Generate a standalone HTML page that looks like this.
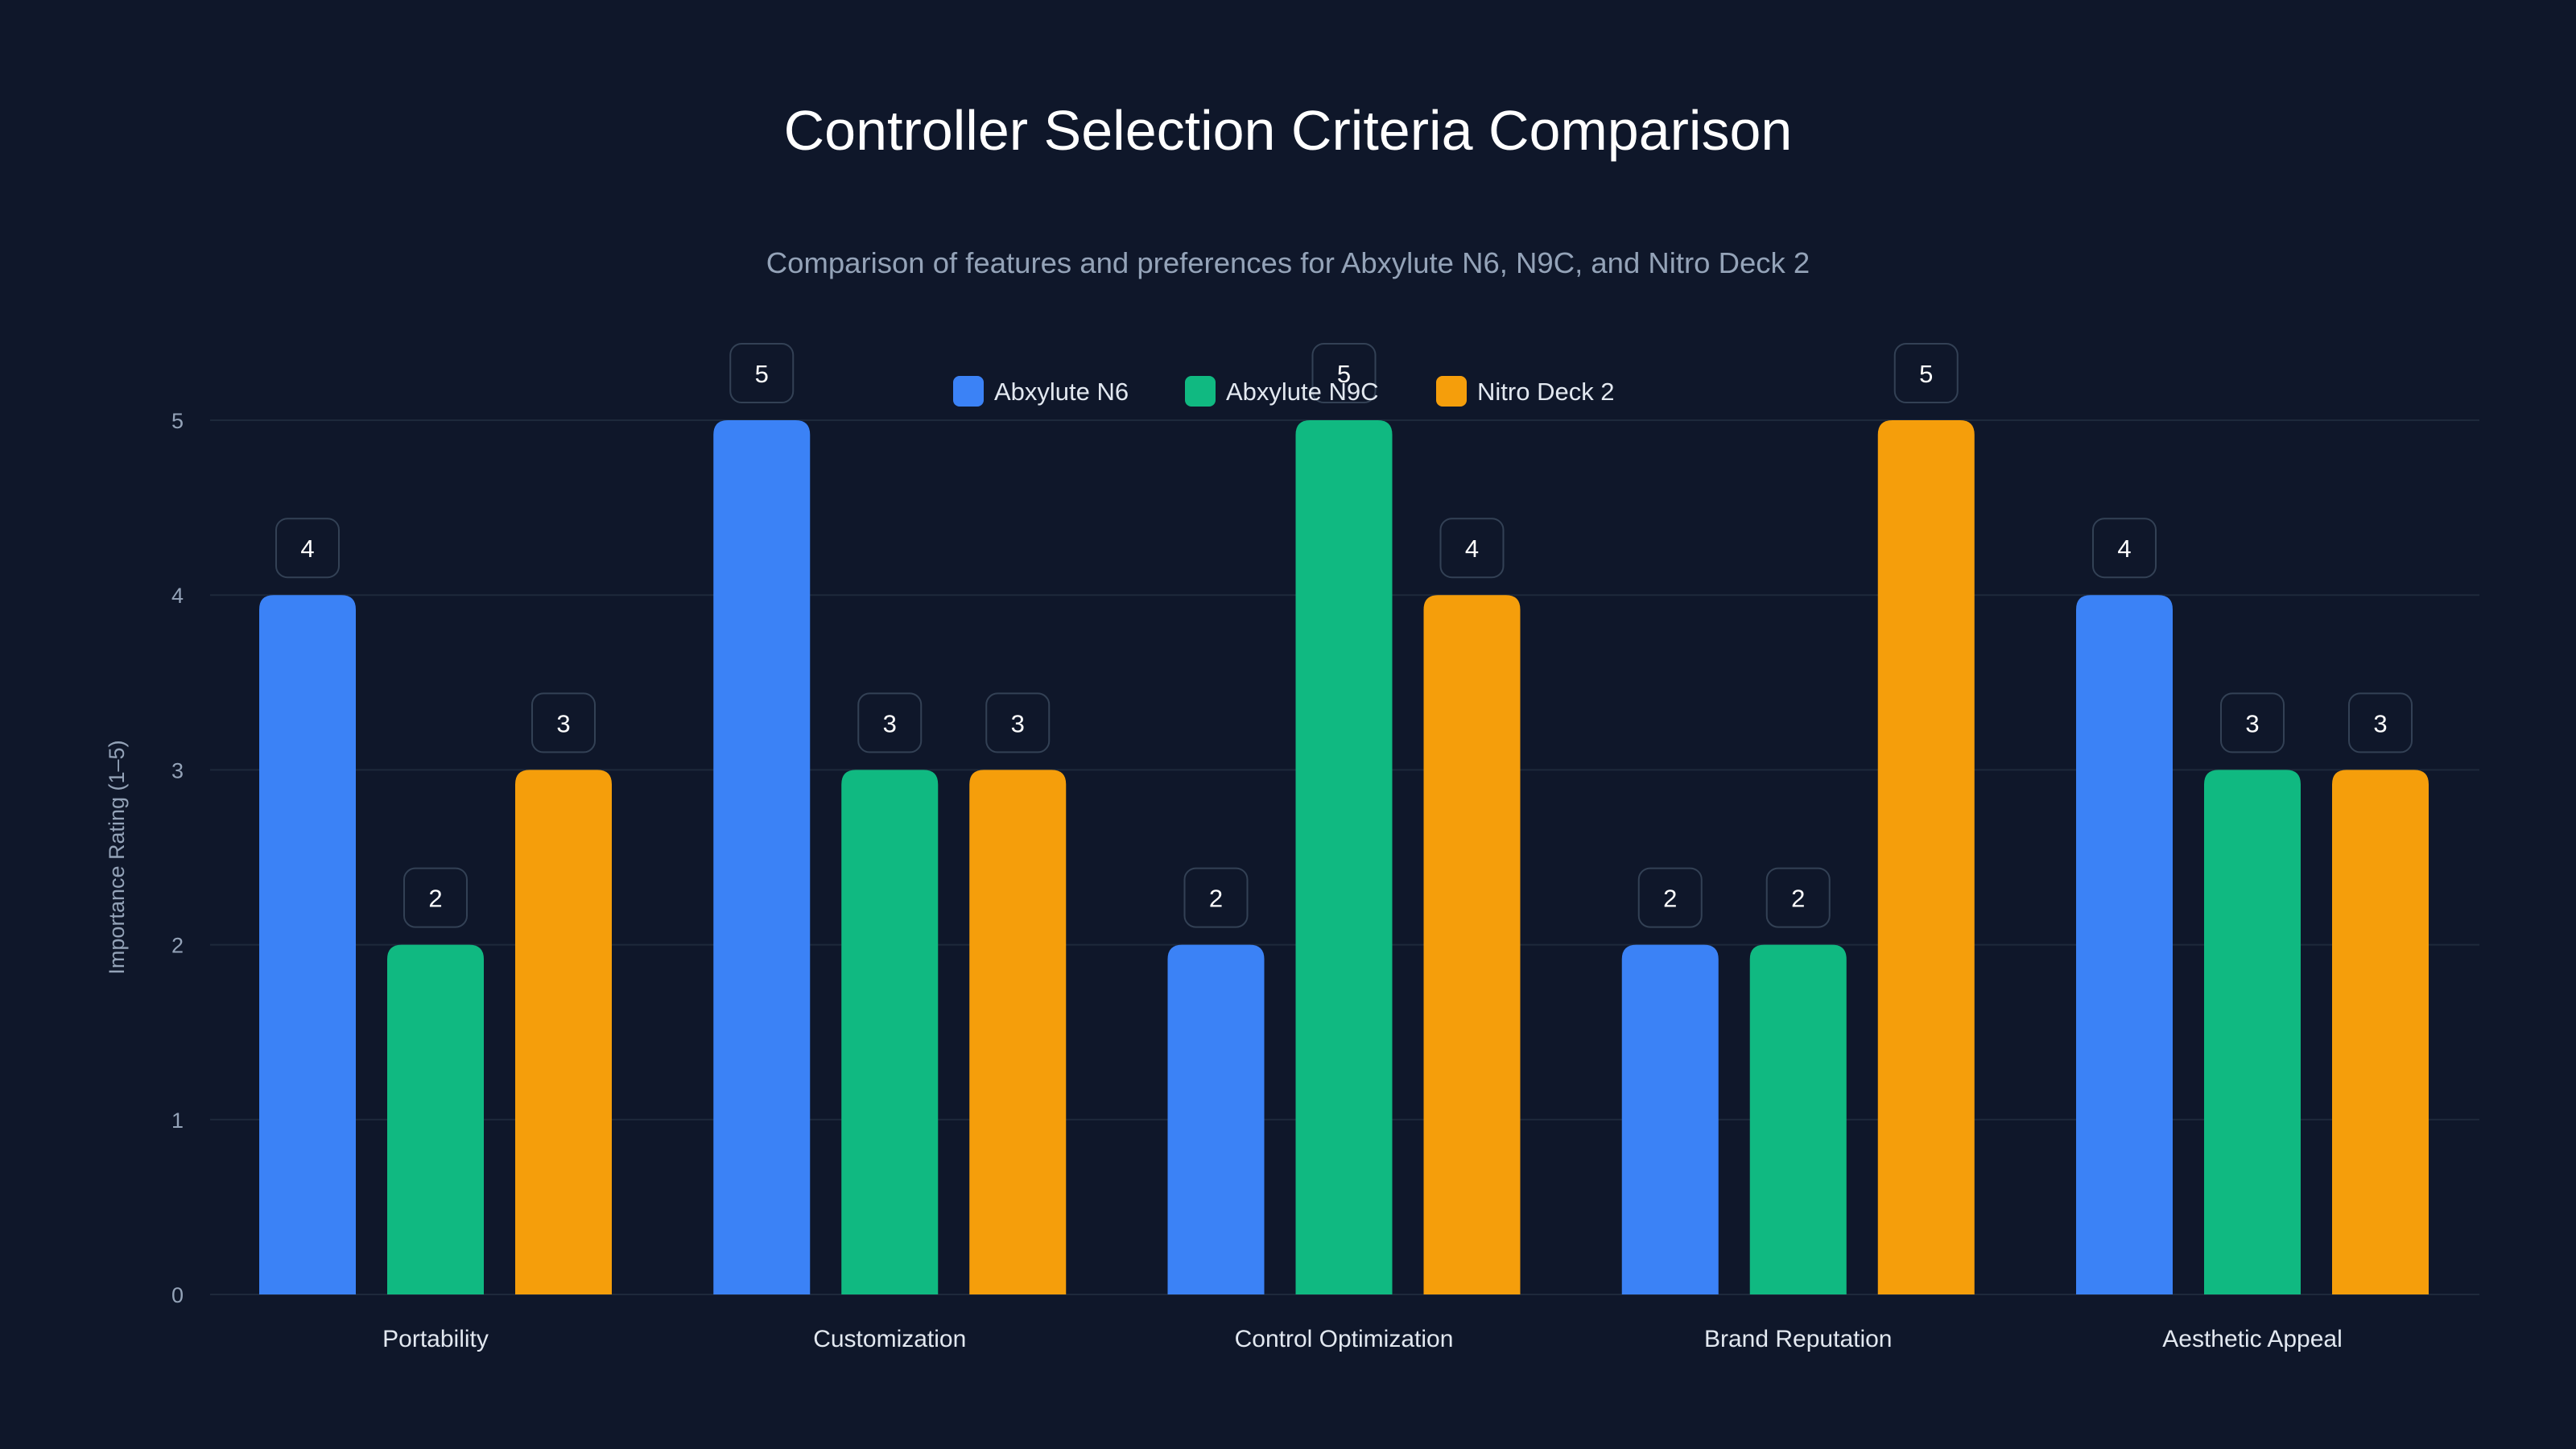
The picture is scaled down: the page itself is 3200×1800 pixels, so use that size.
<!DOCTYPE html>
<html><head><meta charset="utf-8"><style>
html,body{margin:0;padding:0;background:#0f172a;}
svg{display:block;font-family:"Liberation Sans",sans-serif;}
</style></head><body>
<svg id="chart" width="3200" height="1800" viewBox="0 0 3200 1800">
<rect width="3200" height="1800" fill="#0f172a"/>
<text x="1600" y="186" text-anchor="middle" fill="#ffffff" font-size="70">Controller Selection Criteria Comparison</text>
<text x="1600" y="339" text-anchor="middle" fill="#94a3b8" font-size="36.5">Comparison of features and preferences for Abxylute N6, N9C, and Nitro Deck 2</text>
<text transform="translate(154,1065) rotate(-90)" text-anchor="middle" fill="#94a3b8" font-size="27">Importance Rating (1–5)</text>
<g id="grid"></g><g id="bars"></g><g id="labels"></g><g id="legend"></g>
</svg>
<script>
const categories=["Portability","Customization","Control Optimization","Brand Reputation","Aesthetic Appeal"];
const seriesNames=["Abxylute N6","Abxylute N9C","Nitro Deck 2"];
const n6=[4,5,2,2,4];
const n9c=[2,3,5,2,3];
const nitro=[3,3,4,5,3];
const yTicks=[0,1,2,3,4,5];
const NS="http://www.w3.org/2000/svg";
const colors=["#3b82f6","#10b981","#f59e0b"];
const series=[n6,n9c,nitro];
const x0=261,x1=3080,yBase=1608,unit=217.2;
const y=v=>yBase-v*unit;
const catX=i=>541+i*(2798-541)/(categories.length-1);
function mk(tag,attrs,parent){const e=document.createElementNS(NS,tag);for(const k in attrs)e.setAttribute(k,attrs[k]);parent.appendChild(e);return e;}
const grid=document.getElementById('grid'),bars=document.getElementById('bars'),labels=document.getElementById('labels'),legend=document.getElementById('legend');
yTicks.forEach(t=>{
  const l=mk('line',{x1:x0,x2:x1,y1:y(t),y2:y(t),stroke:'#1e293b','stroke-width':2},grid);
  
  
  const tx=mk('text',{x:228,y:y(t)+10,'text-anchor':'end',fill:'#94a3b8','font-size':27},grid);
  tx.textContent=t;
  
  
});
categories.forEach((c,i)=>{
  const tx=mk('text',{x:catX(i),y:1673,'text-anchor':'middle',fill:'#e2e8f0','font-size':30},labels);
  tx.textContent=c;
  
  
  series.forEach((s,j)=>{
    const cx=catX(i)+(j-1)*159,w=120,top=y(s[i]);
    const p=mk('path',{d:`M${cx-w/2},${yBase}V${top+18}Q${cx-w/2},${top} ${cx-w/2+18},${top}H${cx+w/2-18}Q${cx+w/2},${top} ${cx+w/2},${top+18}V${yBase}Z`,fill:colors[j]},bars);
    
    
    const b=mk('rect',{x:cx-39,y:top-95,width:78,height:73,rx:14,fill:'#0f172a',stroke:'#334155','stroke-width':2},labels);
    
    
    const vt=mk('text',{x:cx,y:top-47,'text-anchor':'middle',fill:'#ffffff','font-size':31},labels);
    vt.textContent=s[i];
    
    
  });
});
const lx=[1184,1472,1784];
seriesNames.forEach((n,j)=>{
  const r=mk('rect',{x:lx[j],y:467,width:38,height:38,rx:8,fill:colors[j]},legend);
  
  
  const t=mk('text',{x:lx[j]+51,y:497,fill:'#e2e8f0','font-size':31},legend);
  t.textContent=n;
  
  
});
</script>
</body></html>
